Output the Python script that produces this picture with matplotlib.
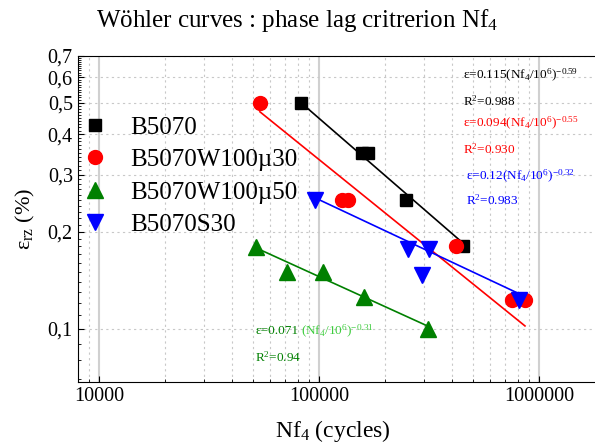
import numpy as np
import matplotlib
matplotlib.use("Agg")
import matplotlib.pyplot as plt
from matplotlib.ticker import FixedLocator, FuncFormatter, LogLocator, MultipleLocator

plt.rcParams['font.family'] = ['Liberation Serif', 'DejaVu Serif']
plt.rcParams['mathtext.fontset'] = 'custom'
plt.rcParams['mathtext.rm'] = 'Liberation Serif'
plt.rcParams['mathtext.it'] = 'Liberation Serif:italic'
plt.rcParams['mathtext.default'] = 'regular'

# Measured points (cycles, strain %)
nf_b5070 = [82600, 156800, 167000, 249000, 452000]
eps_b5070 = [0.50, 0.35, 0.35, 0.25, 0.18]

nf_w30 = [53700, 126500, 135500, 418000, 750000, 861000]
eps_w30 = [0.50, 0.25, 0.25, 0.18, 0.123, 0.123]

nf_w50 = [51500, 71600, 103500, 159600, 311000]
eps_w50 = [0.179, 0.150, 0.150, 0.125, 0.100]

nf_s30 = [95500, 254000, 316000, 292000, 811000]
eps_s30 = [0.25, 0.177, 0.177, 0.147, 0.123]

# Power-law fits eps = a * (Nf/1e6)^b
fit_b5070 = (0.115, -0.59)
fit_w30 = (0.094, -0.55)
fit_w50 = (0.071, -0.31)
fit_s30 = (0.12, -0.32)

yticks = [0.1, 0.2, 0.3, 0.4, 0.5, 0.6, 0.7]

fig = plt.figure(figsize=(5.95, 4.48), dpi=100)
ax = fig.add_axes([77.7 / 595, 66.3 / 448, (600 - 77.7) / 595, 326 / 448])


def fit_line(nf, fit, color):
    x = np.array([min(nf), max(nf)])
    ax.plot(x, fit[0] * (x / 1e6) ** fit[1], color=color, lw=1.2, zorder=2)


fit_line(nf_b5070, fit_b5070, 'black')
fit_line(nf_w30, fit_w30, 'red')
fit_line(nf_w50, fit_w50, 'green')
fit_line(nf_s30, fit_s30, 'blue')

ax.plot(nf_b5070, eps_b5070, 's', color='black', ms=9, ls='none', label='B5070', zorder=3)
ax.plot(nf_w30, eps_w30, 'o', color='red', ms=10, ls='none', label='B5070W100µ30', zorder=3)
ax.plot(nf_w50, eps_w50, '^', color='green', ms=11, ls='none', label='B5070W100µ50', zorder=3)
ax.plot(nf_s30, eps_s30, 'v', color='blue', ms=11, ls='none', label='B5070S30', zorder=3)

ax.set_xscale('log')
ax.set_yscale('log')
ax.set_xlim(7980, 1.888e6)
ax.set_ylim(0.0686, 0.7)

ax.xaxis.set_major_locator(LogLocator(base=10))
ax.xaxis.set_minor_locator(LogLocator(base=10, subs=np.arange(2, 10)))
ax.xaxis.set_major_formatter(FuncFormatter(lambda v, p: '%d' % v))
ax.xaxis.set_minor_formatter(FuncFormatter(lambda v, p: ''))
ax.yaxis.set_major_locator(FixedLocator(yticks))
ax.yaxis.set_minor_locator(MultipleLocator(0.01))
ax.yaxis.set_major_formatter(FuncFormatter(lambda v, p: ('%.1f' % v).replace('.', ',')))
ax.yaxis.set_minor_formatter(FuncFormatter(lambda v, p: ''))

ax.tick_params(which='both', direction='in', labelsize=14.5)
ax.tick_params(which='major', length=4)
ax.tick_params(which='minor', length=2)

ax.grid(True, axis='x', which='major', color='#d0d0d0', ls='-', lw=1.5, zorder=0)
ax.grid(True, axis='x', which='minor', color='#c8c8c8', ls=(0, (2, 3)), lw=0.8, zorder=0)
ax.grid(True, axis='y', which='major', color='#c8c8c8', ls=(0, (2, 3)), lw=0.8, zorder=0)
ax.set_axisbelow(True)

ax.set_xlabel('Nf$_4$ (cycles)', fontsize=17, labelpad=9)
ax.xaxis.label.set_x((333 - 77.7) / 522.3)
ax.set_ylabel('ε$_{rz}$ (%)', fontsize=16, labelpad=8)
fig.text(0.5, 1 - 20 / 448, 'Wöhler curves : phase lag critrerion Nf$_4$',
         ha='center', va='center', fontsize=18)

ax.legend(loc='upper left', bbox_to_anchor=(-0.019, 0.868), frameon=False, fontsize=18,
          handlelength=0.8, handletextpad=1.0, labelspacing=0.4, borderpad=0.2)

tk = dict(fontsize=9.5, transform=fig.transFigure, ha='left', va='center')
fig.text(463 / 595, 1 - 75 / 448, 'ε=0.115(Nf$_4$/10$^6$)$^{-0.59}$', color='black', **tk)
fig.text(463 / 595, 1 - 101 / 448, 'R$^2$=0.988', color='black', **tk)
fig.text(463 / 595, 1 - 123 / 448, 'ε=0.094(Nf$_4$/10$^6$)$^{-0.55}$', color='red', **tk)
fig.text(463 / 595, 1 - 149 / 448, 'R$^2$=0.930', color='red', **tk)
fig.text(466 / 595, 1 - 176 / 448, 'ε=0.12(Nf$_4$/10$^6$)$^{-0.32}$', color='blue', **tk)
fig.text(466 / 595, 1 - 200 / 448, 'R$^2$=0.983', color='blue', **tk)
fig.text(255 / 595, 1 - 331 / 448, 'ε=0.071', color='green', **tk)
fig.text(301 / 595, 1 - 331 / 448, '(Nf$_4$/10$^6$)$^{-0.31}$', color='#3dcc3d', **tk)
fig.text(255 / 595, 1 - 357 / 448, 'R$^2$=0.94', color='green', **tk)

fig.savefig('out.png', dpi=100)
